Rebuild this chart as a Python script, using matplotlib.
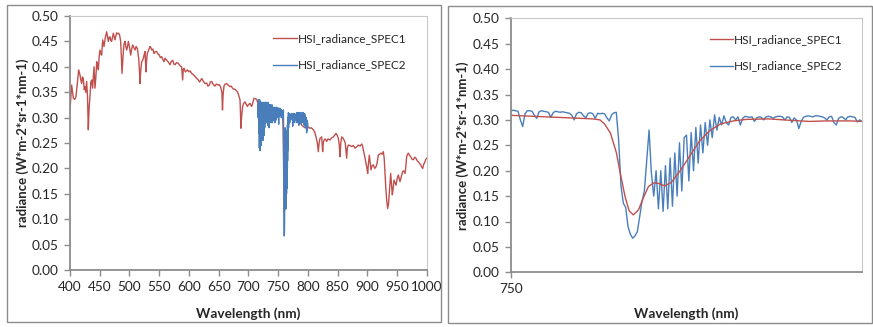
import numpy as np
import matplotlib
matplotlib.use("Agg")
import matplotlib.pyplot as plt
from matplotlib.patches import Rectangle

plt.rcParams['font.family'] = ['Lato', 'DejaVu Sans']

# SPEC1: field spectrometer radiance, irregular wavelength steps (nm)
spec1_wl = [
    400, 402.8, 405.6, 408, 410, 412.3, 414.6, 416.8, 418, 419.6,
    421, 422.4, 424, 425.2, 426.5, 428, 429.5, 430.8, 432.2, 433.6,
    435, 436.4, 438, 440.4, 442, 443.5, 444.9, 446, 447.7, 449,
    450.5, 452, 453.3, 455, 457.2, 459, 461.7, 463, 464.5, 466,
    467.3, 468.5, 470, 471.5, 472.9, 474.2, 475.7, 477, 478.5, 480,
    481.9, 483.5, 485.2, 486.4, 487.5, 488.6, 489.7, 491, 492.5, 494,
    495.3, 496.8, 498.1, 500, 502, 503.7, 505.4, 507.3, 509.3, 511.3,
    513.3, 515.5, 517.0, 517.7, 518.8, 520.5, 522, 523.4, 525, 526.2,
    527.8, 529, 530, 532, 534.6, 536, 537.4, 539.5, 541.3, 543.5,
    545.8, 548, 550.3, 552, 554.2, 556, 558.1, 560, 562.6, 565,
    568.2, 570, 572.7, 575, 576.6, 579, 582.2, 585, 587.8, 589,
    589.5, 590.5, 591.8, 594, 597.4, 600, 602, 604.7, 607, 610.3,
    613, 615.9, 618, 621.5, 624, 627.1, 630, 632, 634.4, 636,
    638.3, 641, 643.9, 646, 649.5, 651, 653.4, 655.5, 656.5, 657.5,
    659, 661, 663.5, 666, 669.1, 671, 674.7, 677, 680.3, 682,
    683.7, 686, 687.0, 687.6, 688.5, 690.4, 692, 694.4, 696, 698.3,
    700.5, 702.8, 704, 705.6, 707.5, 709.5, 712, 714, 716.8, 719,
    725, 732, 740, 745, 750, 752, 754, 756, 757, 757.6,
    758.0, 758.5, 759.0, 759.4, 759.75, 760.1, 760.45, 760.9, 761.3, 761.75,
    762.2, 762.6, 763.15, 763.7, 764.4, 765.2, 766.1, 767.0, 767.9, 769.0,
    770.1, 772, 774, 775.5, 777, 779, 780, 785, 790, 795,
    800, 803.7, 806, 809.3, 811.5, 813.8, 816, 817.7, 819, 820.5,
    823.3, 825, 826, 827.3, 829.5, 831.7, 834, 837.3, 840, 843,
    845, 847.4, 849.5, 851.4, 853, 854.2, 855.5, 857, 859, 860.9,
    863, 865.4, 866.5, 868.2, 871, 873.8, 876.5, 879.4, 882, 885,
    888, 890.6, 892, 893.4, 895.5, 897.9, 899.5, 900.7, 902, 903.5,
    905, 906.3, 908, 910.2, 912.5, 914.7, 916.5, 918.6, 921, 923.1,
    925, 927, 928.5, 929.9, 931.3, 932.7, 934.3, 935.8, 937.1, 938.3,
    939.4, 940.8, 942.2, 943.5, 945, 946.8, 948.4, 950.3, 952.3, 953.8,
    955.1, 957.5, 959.6, 961.5, 963.5, 965, 966.3, 967.8, 969.2, 971,
    973.1, 975.5, 977.5, 980, 982, 984, 985.9, 988, 989.9, 991.5,
    993.2, 995, 997.1, 998.5, 1000,
]
spec1_val = [
    0.315, 0.364, 0.338, 0.336, 0.341, 0.367, 0.394, 0.384, 0.375, 0.367,
    0.380, 0.377, 0.355, 0.361, 0.350, 0.371, 0.340, 0.276, 0.320, 0.341,
    0.370, 0.374, 0.358, 0.400, 0.358, 0.380, 0.410, 0.405, 0.394, 0.420,
    0.433, 0.425, 0.423, 0.453, 0.440, 0.455, 0.469, 0.460, 0.450, 0.458,
    0.459, 0.452, 0.450, 0.458, 0.466, 0.460, 0.453, 0.460, 0.467, 0.465,
    0.466, 0.462, 0.450, 0.420, 0.387, 0.410, 0.430, 0.445, 0.450, 0.440,
    0.433, 0.440, 0.450, 0.440, 0.423, 0.435, 0.443, 0.438, 0.433, 0.440,
    0.436, 0.417, 0.390, 0.367, 0.390, 0.410, 0.412, 0.417, 0.425, 0.430,
    0.390, 0.415, 0.426, 0.432, 0.440, 0.438, 0.433, 0.435, 0.426, 0.430,
    0.430, 0.425, 0.423, 0.418, 0.420, 0.415, 0.410, 0.417, 0.413, 0.410,
    0.404, 0.410, 0.413, 0.405, 0.404, 0.408, 0.407, 0.402, 0.400, 0.380,
    0.374, 0.395, 0.397, 0.390, 0.394, 0.390, 0.392, 0.387, 0.385, 0.381,
    0.378, 0.374, 0.370, 0.377, 0.372, 0.367, 0.368, 0.362, 0.364, 0.370,
    0.371, 0.365, 0.362, 0.366, 0.364, 0.365, 0.360, 0.350, 0.315, 0.345,
    0.362, 0.366, 0.367, 0.364, 0.361, 0.362, 0.356, 0.356, 0.353, 0.350,
    0.344, 0.335, 0.300, 0.279, 0.300, 0.322, 0.328, 0.331, 0.327, 0.322,
    0.326, 0.328, 0.325, 0.322, 0.330, 0.338, 0.337, 0.336, 0.325, 0.320,
    0.325, 0.320, 0.316, 0.312, 0.309, 0.307, 0.305, 0.303, 0.302, 0.300,
    0.292, 0.274, 0.236, 0.188, 0.149, 0.121, 0.113, 0.123, 0.146, 0.169,
    0.176, 0.175, 0.170, 0.177, 0.198, 0.226, 0.258, 0.279, 0.292, 0.298,
    0.301, 0.302, 0.299, 0.297, 0.298, 0.298, 0.297, 0.293, 0.285, 0.280,
    0.282, 0.279, 0.280, 0.276, 0.272, 0.262, 0.250, 0.233, 0.250, 0.259,
    0.262, 0.233, 0.250, 0.256, 0.258, 0.253, 0.258, 0.256, 0.260, 0.262,
    0.265, 0.269, 0.265, 0.259, 0.245, 0.223, 0.250, 0.262, 0.260, 0.256,
    0.250, 0.220, 0.240, 0.246, 0.245, 0.243, 0.245, 0.240, 0.242, 0.246,
    0.244, 0.248, 0.245, 0.236, 0.225, 0.210, 0.200, 0.190, 0.210, 0.226,
    0.210, 0.197, 0.205, 0.207, 0.200, 0.203, 0.210, 0.226, 0.228, 0.230,
    0.228, 0.233, 0.220, 0.190, 0.160, 0.138, 0.121, 0.130, 0.151, 0.170,
    0.190, 0.170, 0.148, 0.160, 0.177, 0.172, 0.167, 0.180, 0.187, 0.180,
    0.174, 0.185, 0.194, 0.195, 0.190, 0.205, 0.223, 0.228, 0.230, 0.226,
    0.223, 0.218, 0.217, 0.222, 0.220, 0.215, 0.213, 0.210, 0.207, 0.203,
    0.200, 0.208, 0.213, 0.218, 0.220,
]

# SPEC2: high resolution spectrum, three blocks with fixed sampling
spec2_a_start, spec2_a_step = 716.0, 0.5
spec2_a = [
    0.325, 0.300, 0.335, 0.270, 0.330, 0.240, 0.335, 0.235, 0.330, 0.250,
    0.330, 0.245, 0.330, 0.270, 0.325, 0.260, 0.330, 0.255, 0.325, 0.270,
    0.330, 0.265, 0.325, 0.280, 0.330, 0.290, 0.330, 0.300, 0.325, 0.290,
    0.330, 0.300, 0.325, 0.285, 0.330, 0.300, 0.325, 0.280, 0.325, 0.290,
    0.325, 0.300, 0.325, 0.295, 0.325, 0.290, 0.320, 0.300, 0.325, 0.290,
    0.320, 0.300, 0.320, 0.295, 0.320, 0.300, 0.320, 0.290, 0.320, 0.300,
    0.320, 0.295, 0.320, 0.300, 0.320, 0.300, 0.318, 0.310,
]
spec2_b_start, spec2_b_step = 750.0, 0.2
spec2_b = [
    0.318, 0.319, 0.318, 0.317, 0.300, 0.287, 0.312, 0.318, 0.318, 0.317,
    0.309, 0.303, 0.316, 0.318, 0.317, 0.316, 0.315, 0.305, 0.314, 0.317,
    0.316, 0.315, 0.316, 0.315, 0.314, 0.313, 0.309, 0.300, 0.312, 0.315,
    0.314, 0.308, 0.304, 0.313, 0.314, 0.312, 0.303, 0.313, 0.312, 0.313,
    0.312, 0.304, 0.298, 0.310, 0.314, 0.315, 0.260, 0.170, 0.136, 0.128,
    0.090, 0.075, 0.067, 0.072, 0.080, 0.110, 0.140, 0.160, 0.220, 0.280,
    0.195, 0.150, 0.200, 0.125, 0.200, 0.120, 0.210, 0.125, 0.225, 0.130,
    0.235, 0.150, 0.255, 0.160, 0.265, 0.270, 0.180, 0.275, 0.200, 0.285,
    0.215, 0.290, 0.235, 0.295, 0.250, 0.300, 0.265, 0.310, 0.280, 0.305,
    0.290, 0.308, 0.295, 0.290, 0.305, 0.306, 0.300, 0.306, 0.290, 0.303,
    0.307, 0.306, 0.305, 0.306, 0.297, 0.304, 0.306, 0.305, 0.300, 0.306,
    0.307, 0.306, 0.303, 0.306, 0.307, 0.307, 0.306, 0.300, 0.306, 0.305,
    0.295, 0.304, 0.300, 0.283, 0.297, 0.305, 0.307, 0.308, 0.307, 0.306,
    0.308, 0.308, 0.307, 0.306, 0.304, 0.300, 0.306, 0.307, 0.295, 0.290,
    0.303, 0.306, 0.305, 0.300, 0.306, 0.307, 0.306, 0.305, 0.296, 0.300,
    0.297,
]
spec2_c_start, spec2_c_step = 780.5, 0.5
spec2_c = [
    0.305, 0.295, 0.310, 0.290, 0.308, 0.296, 0.310, 0.290, 0.308, 0.285,
    0.310, 0.295, 0.308, 0.290, 0.310, 0.296, 0.305, 0.288, 0.308, 0.294,
    0.310, 0.292, 0.306, 0.290, 0.310, 0.296, 0.305, 0.285, 0.308, 0.290,
    0.305, 0.280, 0.300, 0.285, 0.300, 0.270, 0.295, 0.275, 0.290, 0.280,
]

spec2_wl = np.concatenate([
    spec2_a_start + spec2_a_step * np.arange(len(spec2_a)),
    spec2_b_start + spec2_b_step * np.arange(len(spec2_b)),
    spec2_c_start + spec2_c_step * np.arange(len(spec2_c)),
])
spec2_val = np.concatenate([spec2_a, spec2_b, spec2_c])

labels = ["HSI_radiance_SPEC1", "HSI_radiance_SPEC2"]
red = "#C0504D"
blue = "#4A7EBB"
txt = "#262626"
yticks = np.arange(0, 0.5001, 0.05)

fig = plt.figure(figsize=(8.73, 3.27), dpi=100)
W, H = 873, 327

# chart area borders
for (x0, y0, x1, y1) in [(7, 5, 441, 322), (448, 6, 872, 323)]:
    fig.patches.append(Rectangle((x0 / W, 1 - y1 / H), (x1 - x0) / W, (y1 - y0) / H,
                                 transform=fig.transFigure, fill=False,
                                 edgecolor="#8C8C8C", linewidth=1.0))

ax1 = fig.add_axes([70 / W, 1 - 270 / H, 356.7 / W, 254 / H])
ax2 = fig.add_axes([511 / W, 1 - 272.3 / H, 351 / W, 254 / H])


def style(ax, ylab_x, xlab_y):
    ax.set_ylim(0, 0.5)
    ax.set_yticks(yticks)
    ax.set_yticklabels(["%.2f" % v for v in yticks])
    for s in ["top", "right"]:
        ax.spines[s].set_color("#C8C8C8")
        ax.spines[s].set_linewidth(0.8)
    for s in ["left", "bottom"]:
        ax.spines[s].set_color("#8C8C8C")
        ax.spines[s].set_linewidth(1.3)
    ax.tick_params(direction="out", length=4, width=1, color="#8C8C8C",
                   labelsize=9.8, labelcolor=txt, pad=4)
    ax.set_ylabel("radiance (W*m-2*sr-1*nm-1)", fontsize=9.5, fontweight="bold",
                  color=txt)
    ax.set_xlabel("Wavelength (nm)", fontsize=9.8, fontweight="bold", color=txt)
    ax.yaxis.set_label_coords(ylab_x, 0.5)
    ax.xaxis.set_label_coords(0.5, xlab_y)


def key(ax, x0, x1, ys):
    for y, c, lab in zip(ys, [red, blue], labels):
        ax.plot([x0, x1], [y, y], color=c, lw=1.0, transform=ax.transAxes,
                clip_on=False)
        ax.text(x1 + 0.003, y, lab, transform=ax.transAxes, fontsize=8.5,
                color=txt, va="center", ha="left")


# full range
ax1.plot(spec1_wl, spec1_val, color=red, lw=1.0)
ax1.plot(spec2_wl, spec2_val, color=blue, lw=1.0)
ax1.set_xlim(400, 1000)
ax1.set_xticks(np.arange(400, 1001, 50))
style(ax1, -0.115, -0.146)
key(ax1, 0.569, 0.637, [0.913, 0.807])

# oxygen A band detail
ax2.plot(spec2_wl, spec2_val, color=blue, lw=1.0)
ax2.plot(spec1_wl, spec1_val, color=red, lw=1.0)
ax2.set_xlim(750, 780)
ax2.set_xticks([750])
style(ax2, -0.12, -0.137)
key(ax2, 0.567, 0.632, [0.918, 0.812])

fig.savefig("out.png", dpi=100)
